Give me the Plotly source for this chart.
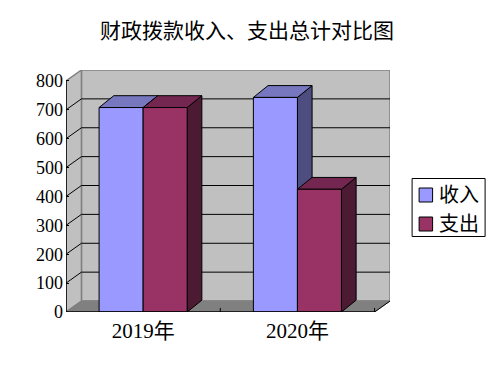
import plotly.graph_objects as go

categories = ["2019年", "2020年"]
income = [708, 743]
expense = [708, 425]
series_names = ["收入", "支出"]
series_colors = ["#9999FF", "#993366"]
y_ticks = [0, 100, 200, 300, 400, 500, 600, 700, 800]
title = "财政拨款收入、支出总计对比图"

FONT = "Liberation Serif, Noto Sans CJK SC, sans-serif"
WALL_DX, WALL_DY = 0.1, 38
BAR_DX, BAR_DY = 0.095, 41
BAR_W = 0.2855
X0, X1, YMAX = -0.5, 1.5, 800

W, H = 481, 352
ML, MR, MT, MB = 58.4, 98.6, 62, 48
PAGE = 8  # default body margin of the page


def px(x):
    return (x - PAGE - ML) / (W - ML - MR)


def py(y):
    return 1 - (y - PAGE - MT) / (H - MT - MB)


def path(points):
    return "M" + " L".join(f"{x},{y}" for x, y in points) + " Z"


def poly(points, fill, line="black", width=1):
    return dict(type="path", xref="x", yref="y", path=path(points), fillcolor=fill,
                line=dict(color=line, width=width), layer="below")


def seg(x0, y0, x1, y1, color="black", width=1, layer="below"):
    return dict(type="line", xref="x", yref="y", x0=x0, y0=y0, x1=x1, y1=y1,
                line=dict(color=color, width=width), layer=layer)


def box(x0, y0, x1, y1, fill, width=1):
    return dict(type="rect", xref="paper", yref="paper", x0=px(x0), x1=px(x1), y0=py(y0), y1=py(y1),
                fillcolor=fill, line=dict(color="black", width=width), layer="above")


shapes = [
    poly([(X0 + WALL_DX, WALL_DY), (X1 + WALL_DX, WALL_DY), (X1 + WALL_DX, YMAX + WALL_DY), (X0 + WALL_DX, YMAX + WALL_DY)],
         "#C0C0C0", "#808080", 1.5),
    poly([(X0, 0), (X0 + WALL_DX, WALL_DY), (X0 + WALL_DX, YMAX + WALL_DY), (X0, YMAX)], "#C0C0C0", "#808080", 1.5),
    poly([(X0, 0), (X1, 0), (X1 + WALL_DX, WALL_DY), (X0 + WALL_DX, WALL_DY)], "#808080", "#808080", 1),
]
for v in y_ticks[1:-1]:
    shapes.append(seg(X0, v, X0 + WALL_DX, v + WALL_DY))
    shapes.append(seg(X0 + WALL_DX, v + WALL_DY, X1 + WALL_DX, v + WALL_DY))

face_colors = [("#4D4D80", "#7777C0"), ("#4D1A33", "#732650")]
for i in range(len(categories)):
    for s, vals in enumerate((income, expense)):
        left = i - BAR_W + s * BAR_W
        right = left + BAR_W
        v = vals[i]
        side, top = face_colors[s]
        shapes.append(poly([(right, 0), (right + BAR_DX, BAR_DY), (right + BAR_DX, v + BAR_DY), (right, v)], side))
        shapes.append(poly([(left, v), (right, v), (right + BAR_DX, v + BAR_DY), (left + BAR_DX, v + BAR_DY)], top))

shapes += [
    seg(X0, 0, X1, 0, width=1.5, layer="above"),
    seg(X0, 0, X0, YMAX, width=1.5, layer="above"),
    seg(X1, 0, X1 + WALL_DX, WALL_DY, layer="below"),
    seg(0.5, 0, 0.5, 14, layer="below"),
    seg(X1, 0, X1, 14, layer="below"),
]

# legend box, drawn by hand so that it keeps the reference's tight layout
shapes.append(box(412.5, 178.5, 485.5, 236.5, "white"))
annotations = []
for k, (name, color) in enumerate(zip(series_names, series_colors)):
    cy = 195 + k * 29
    shapes.append(box(419.5, cy - 7, 433, cy + 7, color))
    annotations.append(dict(text=name, xref="paper", yref="paper", x=px(437), y=py(cy), xanchor="left", yanchor="middle",
                            showarrow=False, font=dict(size=20, family=FONT)))

fig = go.Figure()
for name, color, vals in zip(series_names, series_colors, (income, expense)):
    fig.add_bar(x=categories, y=vals, name=name, marker=dict(color=color, line=dict(color="black", width=1)))

fig.update_layout(
    width=W, height=H, autosize=False,
    margin=dict(l=ML, r=MR, t=MT, b=MB, pad=0),
    paper_bgcolor="white", plot_bgcolor="rgba(0,0,0,0)",
    barmode="group", bargap=0.429, bargroupgap=0,
    font=dict(family=FONT, color="black"),
    title=dict(text=title, font=dict(size=21, family=FONT), x=0.497, xanchor="center", y=0.935, yanchor="middle"),
    shapes=shapes,
    annotations=annotations,
    showlegend=False,
    xaxis=dict(type="category", categoryorder="array", categoryarray=categories, range=[X0, X1 + WALL_DX],
               showgrid=False, zeroline=False, showline=False, ticks="", ticklabelstandoff=4,
               tickfont=dict(size=21, family=FONT)),
    yaxis=dict(range=[0, YMAX + WALL_DY], tickvals=y_ticks, showgrid=False, zeroline=False, showline=False,
               ticks="inside", ticklen=3, tickcolor="black", tickwidth=1, ticklabelstandoff=2,
               tickfont=dict(size=18, family=FONT)),
)

fig.write_html("out.html")
